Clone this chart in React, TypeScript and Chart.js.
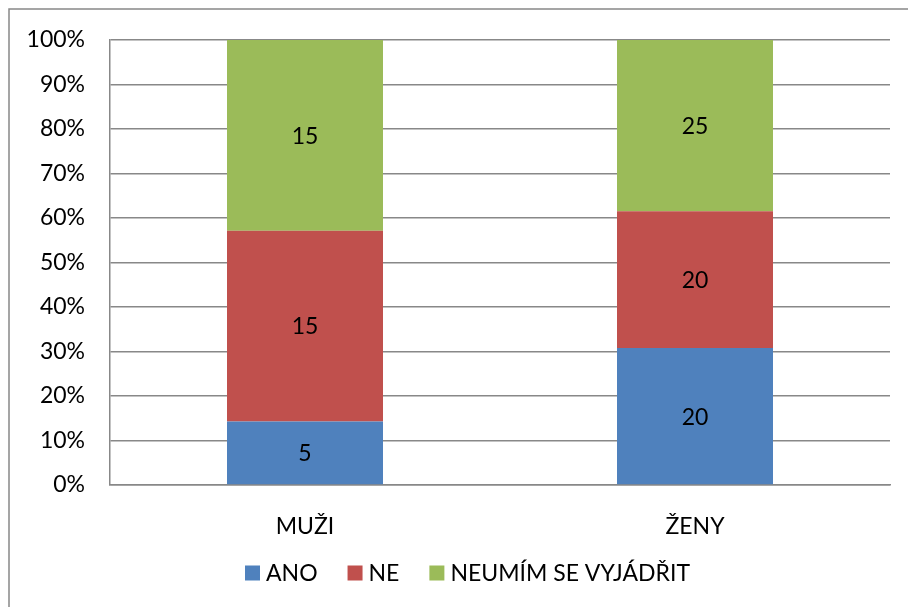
import React, { useEffect, useRef } from "react";
import { Chart, registerables } from "chart.js";

Chart.register(...registerables);

const categories = ["MUŽI", "ŽENY"];
const seriesNames = ["ANO", "NE", "NEUMÍM SE VYJÁDŘIT"];
const ano = [5, 20];
const ne = [15, 20];
const neumim = [15, 25];
const colors = ["#4F81BD", "#C0504D", "#9BBB59"];
const yTicks = [0, 10, 20, 30, 40, 50, 60, 70, 80, 90, 100];

const FONT = "Lato, 'Open Sans', sans-serif";
const FS = 23;

export default function App() {
  const ref = useRef<HTMLCanvasElement | null>(null);
  useEffect(() => {
    const raw = [ano, ne, neumim];
    const totals = categories.map((_, i) => raw.reduce((s, arr) => s + arr[i], 0));
    const pct = raw.map((arr) => arr.map((v, i) => (v / totals[i]) * 100));

    const frame = {
      id: "frame",
      beforeDraw(chart: any) {
        const ctx = chart.ctx;
        ctx.save();
        ctx.fillStyle = "#ffffff";
        ctx.fillRect(0, 0, chart.width, chart.height);
        ctx.strokeStyle = "#888888";
        ctx.lineWidth = 1.5;
        ctx.strokeRect(9, 9, 2000, 2000);
        ctx.restore();
      },
    };
    const labels = {
      id: "vlabels",
      afterDatasetsDraw(chart: any) {
        const ctx = chart.ctx;
        ctx.save();
        ctx.font = `${FS}px ${FONT}`;
        ctx.fillStyle = "#000000";
        ctx.textAlign = "center";
        ctx.textBaseline = "middle";
        chart.data.datasets.forEach((ds: any, di: number) => {
          const meta = chart.getDatasetMeta(di);
          meta.data.forEach((el: any, i: number) => {
            const y = (el.y + el.base) / 2;
            ctx.fillText(String(raw[di][i]), el.x, y + 1);
          });
        });
        ctx.restore();
      },
    };
    const legend = {
      id: "customLegend",
      afterDraw(chart: any) {
        const ctx = chart.ctx;
        ctx.save();
        ctx.font = `${FS}px ${FONT}`;
        ctx.textBaseline = "middle";
        ctx.textAlign = "left";
        const box = 15;
        const gapText = 6;
        const gapItem = 30;
        const widths = seriesNames.map((n) => box + gapText + ctx.measureText(n).width);
        const total = widths.reduce((a, b) => a + b, 0) + gapItem * (widths.length - 1);
        let x = 467.5 - total / 2;
        const cy = 573;
        seriesNames.forEach((n, k) => {
          ctx.fillStyle = colors[k];
          ctx.fillRect(x, cy - box / 2, box, box);
          ctx.fillStyle = "#000000";
          ctx.fillText(n, x + box + gapText, cy + 1);
          x += widths[k] + gapItem;
        });
        ctx.restore();
      },
    };

    const chart = new Chart(ref.current as HTMLCanvasElement, {
      type: "bar",
      data: {
        labels: categories,
        datasets: seriesNames.map((n, k) => ({
          label: n,
          data: pct[k],
          backgroundColor: colors[k],
          borderWidth: 0,
          categoryPercentage: 1,
          barPercentage: 0.4,
        })),
      },
      options: {
        animation: false,
        responsive: false,
        maintainAspectRatio: false,
        layout: { padding: { top: 40, right: 18, left: 0, bottom: 0 } },
        plugins: {
          tooltip: { enabled: false },
          legend: { display: false },
        },
        scales: {
          x: {
            stacked: true,
            grid: { display: false },
            border: { display: true, color: "#888888", width: 1.5 },
            ticks: { color: "#000000", font: { family: FONT, size: FS }, padding: 20 },
            afterFit(scale: any) {
              scale.height = 122;
            },
          },
          y: {
            stacked: true,
            min: 0,
            max: 100,
            afterBuildTicks(scale: any) {
              scale.ticks = yTicks.map((v) => ({ value: v }));
            },
            grid: { color: "#888888", lineWidth: 1.5, drawTicks: false },
            border: { display: true, color: "#888888", width: 1.5 },
            ticks: {
              color: "#000000",
              font: { family: FONT, size: FS },
              padding: 25,
              callback: (v: any) => `${v}%`,
            },
            afterFit(scale: any) {
              scale.width = 110;
            },
          },
        },
      },
      plugins: [frame, labels, legend],
    } as any);
    return () => chart.destroy();
  }, []);

  return (
    <div style={{ position: "fixed", left: 0, top: 0, width: 908, height: 607, background: "#fff" }}>
      <canvas ref={ref} width={908} height={607} style={{ display: "block", width: 908, height: 607 }} />
    </div>
  );
}
